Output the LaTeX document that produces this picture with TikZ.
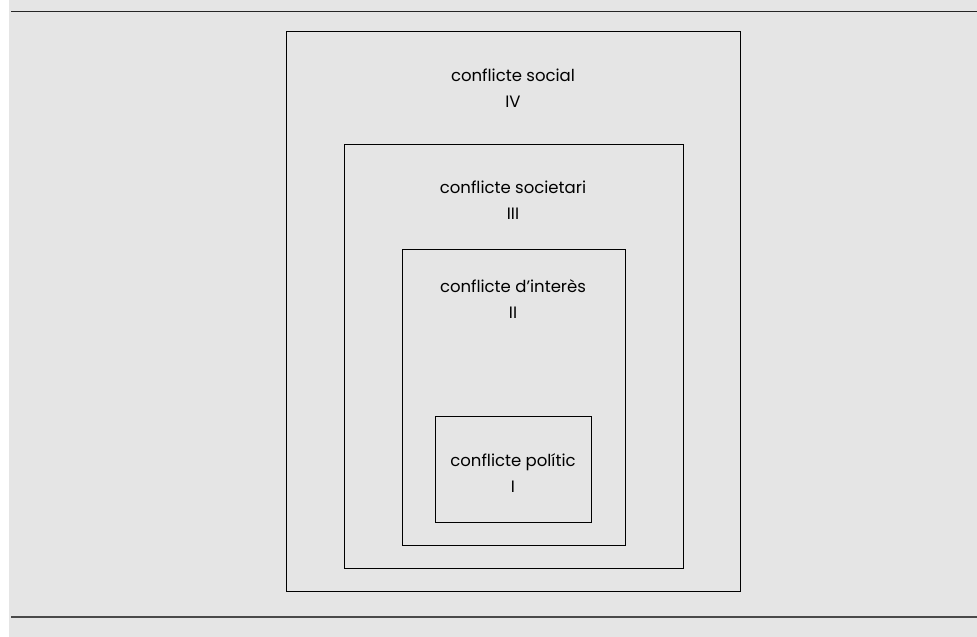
\documentclass[tikz,border=0pt]{standalone}
\usepackage{fontspec}
\setmainfont{Poppins}
\usepackage{tikz}
\usetikzlibrary{positioning}

\definecolor{fons}{HTML}{E5E5E5}
\definecolor{filet}{HTML}{4A4A4A}

\tikzset{
  caixa/.style={draw=black, line width=1pt, rectangle, inner sep=0pt},
  etiqueta/.style={align=center, font=\fontsize{16.5}{26.5}\selectfont, inner sep=0pt}
}

\begin{document}
\begin{tikzpicture}[x=1pt,y=1pt]
      \useasboundingbox (0,0) rectangle (977,637);
      \fill[fons] (9,0) rectangle (977,637);
      \coordinate (a1) at (11,625.5);
      \coordinate (a2) at (977,625.5);
      \coordinate (b1) at (11,20);
      \coordinate (b2) at (977,20);
      \draw[line width=1.2pt, black!85] (a1) -- (a2);
      \draw[line width=1.5pt, filet] (b1) -- (b2);
      \node[caixa, minimum width=454pt, minimum height=560pt] (IV) at (513,325) {};
      \node[caixa, minimum width=339pt, minimum height=424pt] (III) at (513.5,280) {};
      \node[caixa, minimum width=223pt, minimum height=296pt] (II) at (513.5,239) {};
      \node[caixa, minimum width=156pt, minimum height=106pt] (I) at (513,167) {};
      \node[etiqueta] (tIV) at (513,549) {conflicte social\\IV};
      \node[etiqueta] (tIII) at (513,437) {conflicte societari\\III};
      \node[etiqueta] (tII) at (513,338) {conflicte d’interès\\II};
      \node[etiqueta] (tI) at (513,164) {conflicte polític\\I};
    \end{tikzpicture}
\end{document}
